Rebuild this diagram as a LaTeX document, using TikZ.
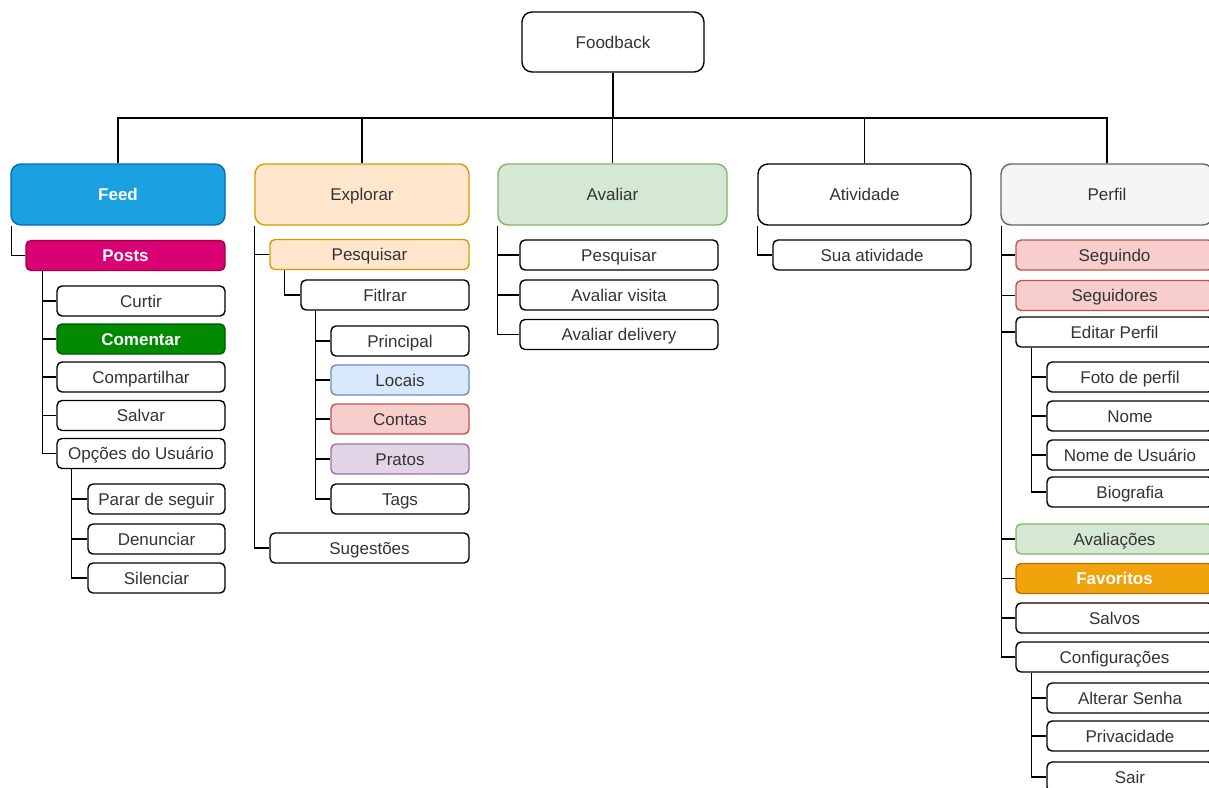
\documentclass[tikz,border=0pt]{standalone}
\usepackage{fontspec}
\setmainfont{Liberation Sans}
\usepackage{tikz}
\usetikzlibrary{positioning}

\definecolor{txt}{HTML}{333333}
\definecolor{feedfill}{HTML}{1BA1E2}
\definecolor{feedline}{HTML}{006EAF}
\definecolor{postsfill}{HTML}{D80073}
\definecolor{postsline}{HTML}{A50040}
\definecolor{comfill}{HTML}{008A00}
\definecolor{comline}{HTML}{005700}
\definecolor{orfill}{HTML}{FFE6CC}
\definecolor{orline}{HTML}{D79B00}
\definecolor{grfill}{HTML}{D5E8D4}
\definecolor{grline}{HTML}{82B366}
\definecolor{gyfill}{HTML}{F5F5F5}
\definecolor{gyline}{HTML}{666666}
\definecolor{blfill}{HTML}{DAE8FC}
\definecolor{blline}{HTML}{6C8EBF}
\definecolor{rdfill}{HTML}{F8CECC}
\definecolor{rdline}{HTML}{B85450}
\definecolor{pufill}{HTML}{E1D5E7}
\definecolor{puline}{HTML}{9673A6}
\definecolor{favfill}{HTML}{F0A30A}
\definecolor{favline}{HTML}{BD7000}

\tikzset{
	topbox/.style={draw=black, fill=white, rounded corners=10, line width=1.4,
		minimum height=61, inner sep=2, text height=13, text depth=1,
		text=txt, font=\fontsize{17}{20}\selectfont},
	itembox/.style={draw=black, fill=white, rounded corners=5, line width=1.4,
		minimum height=30, inner sep=2, text height=13, text depth=1,
		text=txt, font=\fontsize{17}{20}\selectfont},
	bold/.style={text=white, font=\fontsize{17}{20}\selectfont\bfseries},
	link/.style={draw=black, line width=1.5},
}

\begin{document}
\begin{tikzpicture}[x=1pt, y=-1pt]
	\useasboundingbox (0,0) rectangle (1209,787);
	% root and bus
	\node[topbox, minimum width=182, minimum height=60] (root) at (613,42) {Foodback};
	\coordinate (bus) at (613,118);
	\draw[link] (root.south) -- (bus);

	% first level
	\node[topbox, minimum width=214, fill=feedfill, draw=feedline, bold] (feed) at (118,194.5) {Feed};
	\node[topbox, minimum width=214, fill=orfill, draw=orline] (explorar) at (362,194.5) {Explorar};
	\node[topbox, minimum width=229, fill=grfill, draw=grline] (avaliar) at (612.5,194.5) {Avaliar};
	\node[topbox, minimum width=213] (atividade) at (864.5,194.5) {Atividade};
	\node[topbox, minimum width=212, fill=gyfill, draw=gyline] (perfil) at (1107,194.5) {Perfil};
	\foreach \t in {feed,explorar,avaliar,atividade,perfil}
		\draw[link] (\t.north) |- (bus);

	% Feed
	\node[itembox, minimum width=199, fill=postsfill, draw=postsline, bold] (posts) at (125.5,255.5) {Posts};
	\node[itembox, minimum width=168] (curtir) at (141,301) {Curtir};
	\node[itembox, minimum width=168, fill=comfill, draw=comline, bold] (comentar) at (141,339) {Comentar};
	\node[itembox, minimum width=168] (compartilhar) at (141,377) {Compartilhar};
	\node[itembox, minimum width=168] (salvar) at (141,415.5) {Salvar};
	\node[itembox, minimum width=168] (opcoes) at (141,453.5) {Opções do Usuário};
	\node[itembox, minimum width=137] (parar) at (156.5,499) {Parar de seguir};
	\node[itembox, minimum width=137] (denunciar) at (156.5,539) {Denunciar};
	\node[itembox, minimum width=137] (silenciar) at (156.5,578) {Silenciar};
	\draw[link] ([xshift=1]feed.south west) |- (posts.west);
	\foreach \c in {curtir,comentar,compartilhar,salvar,opcoes}
		\draw[link] ([xshift=17]posts.south west) |- (\c.west);
	\foreach \c in {parar,denunciar,silenciar}
		\draw[link] ([xshift=15]opcoes.south west) |- (\c.west);

	% Explorar
	\node[itembox, minimum width=199, fill=orfill, draw=orline] (pesqexp) at (369.5,254.5) {Pesquisar};
	\node[itembox, minimum width=168] (filtrar) at (385,295) {Fitlrar};
	\node[itembox, minimum width=138] (principal) at (400,341) {Principal};
	\node[itembox, minimum width=138, fill=blfill, draw=blline] (locais) at (400,380) {Locais};
	\node[itembox, minimum width=138, fill=rdfill, draw=rdline] (contas) at (400,419) {Contas};
	\node[itembox, minimum width=138, fill=pufill, draw=puline] (pratos) at (400,459) {Pratos};
	\node[itembox, minimum width=138] (tags) at (400,499) {Tags};
	\node[itembox, minimum width=199] (sugestoes) at (369.5,548) {Sugestões};
	\foreach \c in {pesqexp,sugestoes}
		\draw[link] (explorar.south west) |- (\c.west);
	\draw[link] ([xshift=15]pesqexp.south west) |- (filtrar.west);
	\foreach \c in {principal,locais,contas,pratos,tags}
		\draw[link] ([xshift=15]filtrar.south west) |- (\c.west);

	% Avaliar
	\node[itembox, minimum width=198] (pesqav) at (619,255) {Pesquisar};
	\node[itembox, minimum width=198] (visita) at (619,295) {Avaliar visita};
	\node[itembox, minimum width=198] (delivery) at (619,334.5) {Avaliar delivery};
	\foreach \c in {pesqav,visita,delivery}
		\draw[link] (avaliar.south west) |- (\c.west);

	% Atividade
	\node[itembox, minimum width=198] (sua) at (872,255) {Sua atividade};
	\draw[link] (atividade.south west) |- (sua.west);

	% Perfil
	\node[itembox, minimum width=197, fill=rdfill, draw=rdline] (seguindo) at (1114.5,255) {Seguindo};
	\node[itembox, minimum width=197, fill=rdfill, draw=rdline] (seguidores) at (1114.5,295.5) {Seguidores};
	\node[itembox, minimum width=197] (editar) at (1114.5,332) {Editar Perfil};
	\node[itembox, minimum width=166] (foto) at (1130,377) {Foto de perfil};
	\node[itembox, minimum width=166] (nome) at (1130,416) {Nome};
	\node[itembox, minimum width=166] (usuario) at (1130,455) {Nome de Usuário};
	\node[itembox, minimum width=166] (bio) at (1130,492) {Biografia};
	\node[itembox, minimum width=197, fill=grfill, draw=grline] (avaliacoes) at (1114.5,539) {Avaliações};
	\node[itembox, minimum width=197, fill=favfill, draw=favline, bold] (favoritos) at (1114.5,578.5) {Favoritos};
	\node[itembox, minimum width=197] (salvos) at (1114.5,618) {Salvos};
	\node[itembox, minimum width=197] (config) at (1114.5,657) {Configurações};
	\node[itembox, minimum width=166] (senha) at (1130,698) {Alterar Senha};
	\node[itembox, minimum width=166] (privacidade) at (1130,736) {Privacidade};
	\node[itembox, minimum width=166] (sair) at (1130,777) {Sair};
	\foreach \c in {seguindo,seguidores,editar,avaliacoes,favoritos,salvos,config}
		\draw[link] ([xshift=1]perfil.south west) |- (\c.west);
	\foreach \c in {foto,nome,usuario,bio}
		\draw[link] ([xshift=16]editar.south west) |- (\c.west);
	\foreach \c in {senha,privacidade,sair}
		\draw[link] ([xshift=16]config.south west) |- (\c.west);
\end{tikzpicture}
\end{document}
